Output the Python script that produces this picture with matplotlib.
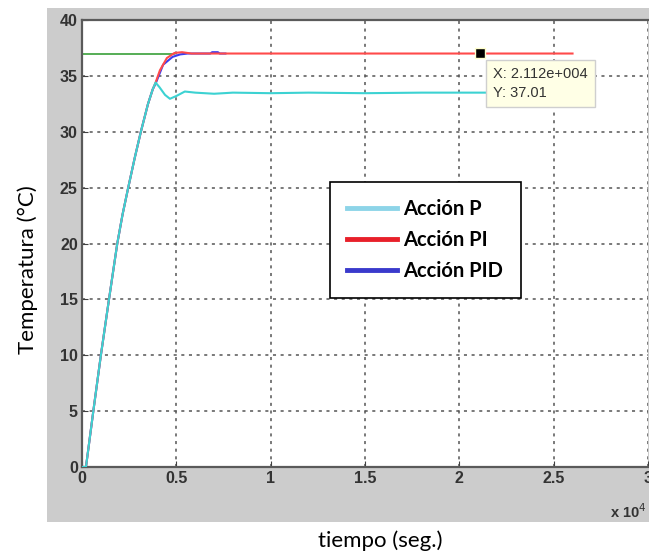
import numpy as np
import matplotlib
matplotlib.use('Agg')
import matplotlib.pyplot as plt
from matplotlib.lines import Line2D
from matplotlib.patches import Rectangle

# time in units of 1e4 s, temperature in degC
t_ref = [0, 0.49]
y_ref = [37, 37]

t_p = [0, 0.021, 0.060, 0.100, 0.143, 0.187, 0.215, 0.245, 0.28, 0.312, 0.35, 0.375, 0.39,
       0.41, 0.44, 0.466, 0.50, 0.545, 0.60, 0.70, 0.80, 1.0, 1.2, 1.5, 1.8, 2.1, 2.6]
y_p = [0, 0, 5, 10, 15, 20, 22.6, 25, 27.7, 30, 32.5, 33.8, 34.4,
       34.0, 33.3, 32.95, 33.2, 33.6, 33.5, 33.4, 33.5, 33.45, 33.5, 33.45, 33.5, 33.5, 33.5]

t_pi = [0, 0.021, 0.060, 0.100, 0.143, 0.187, 0.215, 0.245, 0.28, 0.312, 0.35, 0.375, 0.39,
        0.413, 0.45, 0.49, 0.53, 0.58, 2.6]
y_pi = [0, 0, 5, 10, 15, 20, 22.6, 25, 27.7, 30, 32.5, 33.8, 34.4,
        35.5, 36.6, 37.05, 37.12, 37.0, 37.0]

t_pid = [0, 0.021, 0.060, 0.100, 0.143, 0.187, 0.215, 0.245, 0.28, 0.312, 0.35, 0.375, 0.39,
         0.43, 0.48, 0.52, 0.56, 0.62, 0.68, 0.69, 0.72, 0.73, 0.76]
y_pid = [0, 0, 5, 10, 15, 20, 22.6, 25, 27.7, 30, 32.5, 33.8, 34.3,
         36.0, 36.7, 36.92, 37.0, 37.0, 37.0, 37.12, 37.12, 37.0, 37.0]

tip_x, tip_y = 2.112, 37.01
legend_labels = ['Acción P', 'Acción PI', 'Acción PID']

fig = plt.figure(figsize=(6.49, 5.56), dpi=100)
bg = Rectangle((47/649, 1-522/556), 1, (522-8)/556, transform=fig.transFigure,
               facecolor='#cccccc', edgecolor='none', zorder=-10)
fig.patches.append(bg)

ax = fig.add_axes([82/649, 1-467/556, 566/649, 447/556])
ax.set_zorder(1)
ax.plot(t_ref, y_ref, color='#38a038', lw=1.2, zorder=2)
ax.plot(t_pid, y_pid, color='#3c3cf0', lw=1.5, zorder=3)
ax.plot(t_pi, y_pi, color='#ff4a4a', lw=1.5, zorder=4)
ax.plot(t_p, y_p, color='#3cd2d2', lw=1.5, zorder=5)

ax.set_xlim(0, 3)
ax.set_ylim(0, 40)
ax.set_xticks(np.arange(0, 3.01, 0.5))
ax.set_xticklabels(['0', '0.5', '1', '1.5', '2', '2.5', '3'])
ax.set_yticks(np.arange(0, 41, 5))
ax.tick_params(direction='in', length=4, colors='#404040', labelcolor='#333333',
               labelsize=11.5, pad=3)
for lab in ax.get_xticklabels() + ax.get_yticklabels():
    lab.set_fontfamily('Liberation Sans')
    lab.set_fontweight('bold')
ax.grid(True, color='#555555', linestyle=(0, (2, 3)), linewidth=1.1)
for s in ['left', 'bottom', 'top']:
    ax.spines[s].set_color('#5a5a5a')
    ax.spines[s].set_linewidth(1.6)
ax.spines['right'].set_visible(False)

# data tip
ax.plot([tip_x], [tip_y], marker='s', color='black', markersize=7,
        markeredgecolor='#ffffcc', zorder=7)
ax.annotate('X: 2.112e+004\nY: 37.01', xy=(tip_x, tip_y), xytext=(9, -10),
            textcoords='offset points', va='top', ha='left', fontsize=10.5,
            family='Liberation Sans', color='#333333', linespacing=1.4, zorder=8,
            bbox=dict(boxstyle='square,pad=0.5', fc='#ffffe6', ec='#cfcfcf', lw=1))

handles = [Line2D([], [], color='#8dd4e8', lw=3.5),
           Line2D([], [], color='#e8202a', lw=3.5),
           Line2D([], [], color='#3a3acc', lw=3.5)]
leg = ax.legend(handles, legend_labels, loc='upper left',
                bbox_to_anchor=((330-82)/566, (467-182)/447),
                prop={'family': 'Lato', 'weight': 'bold', 'size': 14.5},
                frameon=True, fancybox=False, edgecolor='black', framealpha=1,
                handlelength=2.5, labelspacing=0.55, borderpad=0.85, handletextpad=0.3,
                borderaxespad=0)
leg.get_frame().set_linewidth(1.2)
leg.set_zorder(10)

fig.text(610/649, 1-518/556, r'x 10$^4$', fontsize=10.5, family='Liberation Sans',
         color='#333333', weight='bold', ha='left', va='baseline')

fig.text(380/649, 1-541/556, 'tiempo (seg.)', fontsize=16, family='Lato',
         ha='center', va='center')
fig.text(28/649, 1-270/556, 'Temperatura (°C)', fontsize=16, family='Lato',
         rotation=90, ha='center', va='center')

fig.savefig('out.png', dpi=100)
